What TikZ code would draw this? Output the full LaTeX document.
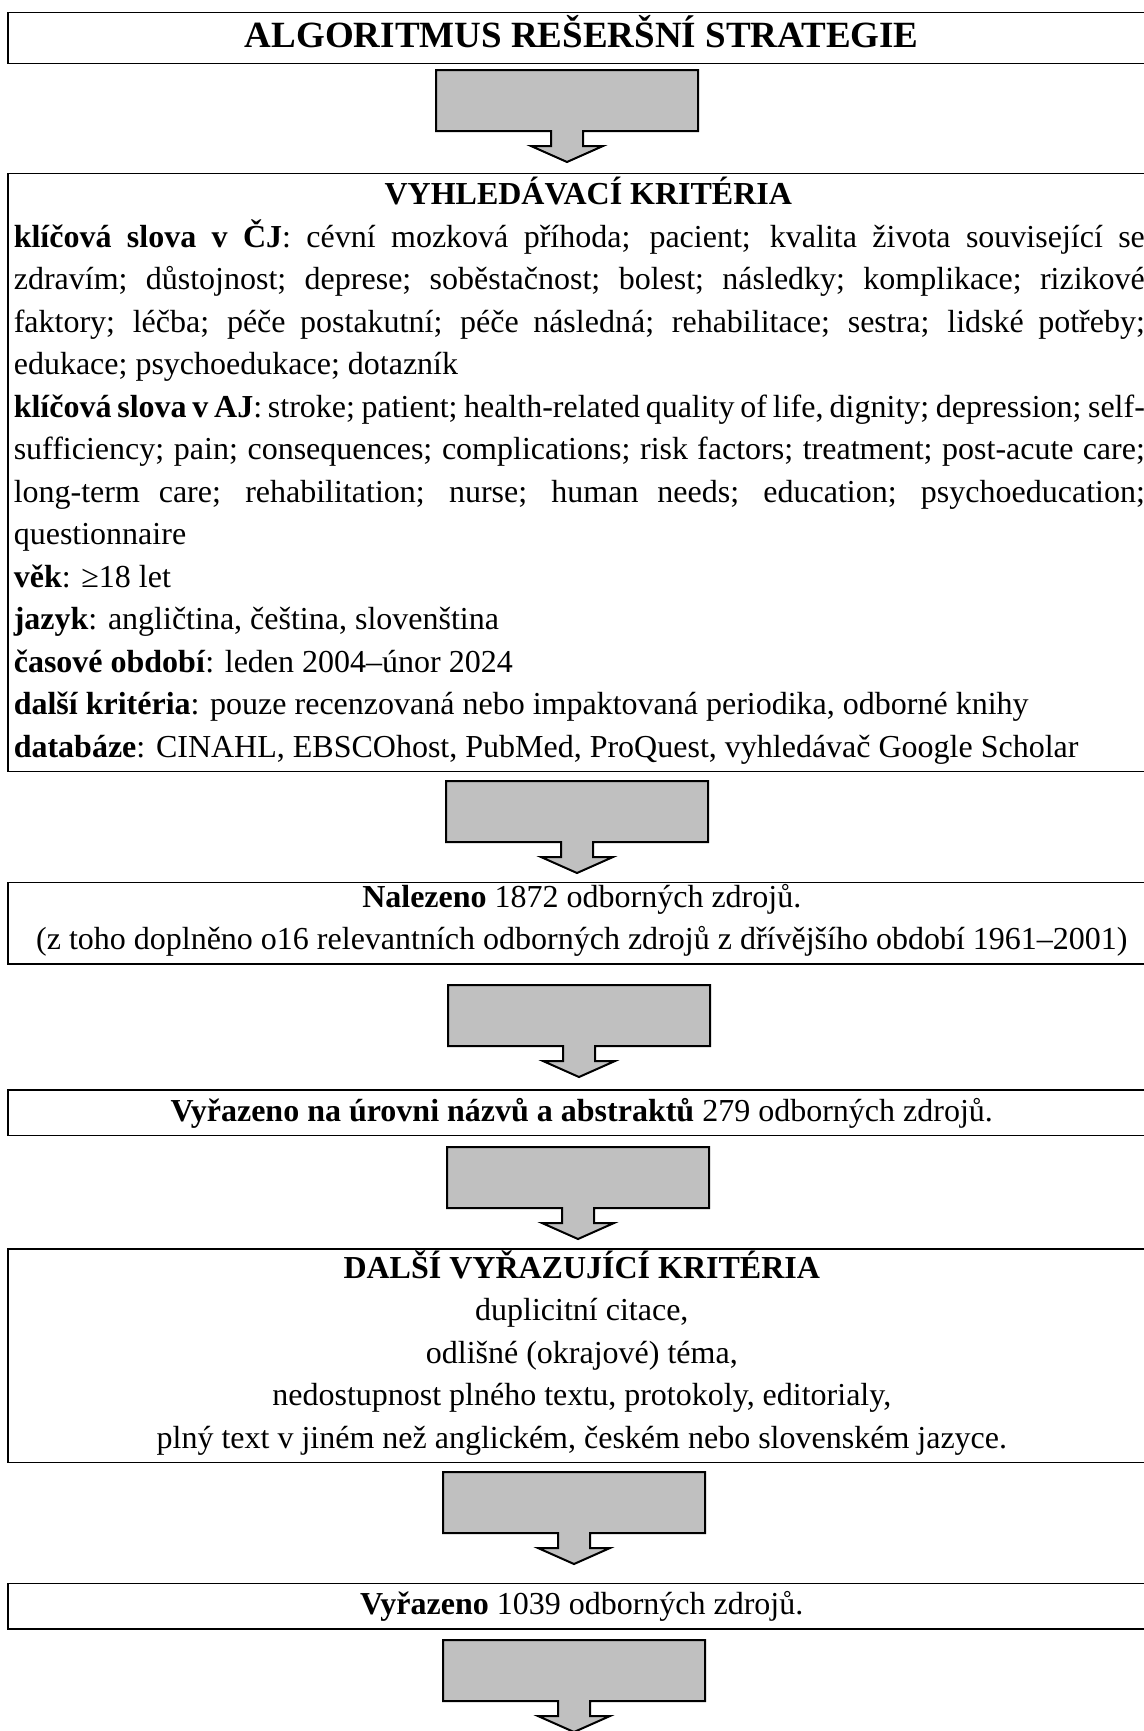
\documentclass[tikz,border=0pt]{standalone}
\usepackage{fontspec}
\setmainfont{Liberation Serif}
\usetikzlibrary{calc}
\setlength{\parindent}{0pt}
\definecolor{arrowgray}{RGB}{192,192,192}
\newcommand{\bodysize}{\fontsize{16pt}{21.25pt}\selectfont}
\tikzset{%
  stagebox/.style  = {draw, line width=0.8pt, anchor=north west,%
                      inner xsep=3pt, inner ysep=0.75pt, font=\bodysize,%
                      execute at begin node=\strut,%
                      execute at end node=\strut},%
  centerbox/.style = {stagebox, align=center, minimum width=574pt},%
  titlebox/.style  = {centerbox,%
                      font=\fontsize{18.5pt}{24pt}\selectfont\bfseries},%
  textbox/.style   = {stagebox, text width=565.5pt, align=justify,%
                      execute at begin node={\tolerance=10000\strut}},%
  downarrow/.style = {draw, line width=1pt, fill=arrowgray, line join=miter}%
}

\begin{document}
\begin{tikzpicture}
[x=0.5pt,y=-0.5pt]
	\useasboundingbox (0,0) rectangle (1144,1731);
	\fill [white] (0,0) rectangle (1144,1731);
	\node (title) at (7,11.7) [titlebox] {ALGORITMUS REŠERŠNÍ STRATEGIE};
	\node (search) at (7,172.7) [textbox] {%
		\makebox[565.5pt]{\hspace*{9pt}\textbf{VYHLEDÁVACÍ KRITÉRIA}}\par
		\textbf{klíčová slova v ČJ}: cévní mozková příhoda; pacient; kvalita života související se\linebreak
		zdravím; důstojnost; deprese; soběstačnost; bolest; následky; komplikace; rizikové\linebreak
		faktory; léčba; péče postakutní; péče následná; rehabilitace; sestra; lidské potřeby;\linebreak
		edukace; psychoedukace; dotazník\par
		\textbf{klíčová slova v AJ}: stroke; patient; health-related quality of life, dignity; depression; self-\linebreak
		sufficiency; pain; consequences; complications; risk factors; treatment; post-acute care;\linebreak
		long-term care; rehabilitation; nurse; human needs; education; psychoeducation;\linebreak
		questionnaire\par
		\textbf{věk}: ≥18 let\par
		\textbf{jazyk}: angličtina, čeština, slovenština\par
		\textbf{časové období}: leden 2004–únor 2024\par
		\textbf{další kritéria}: pouze recenzovaná nebo impaktovaná periodika, odborné knihy\par
		\textbf{databáze}: CINAHL, EBSCOhost, PubMed, ProQuest, vyhledávač Google Scholar};
	\node (found) at (7,881.7) [centerbox] {\textbf{Nalezeno} 1872 odborných zdrojů.\\
		(z toho doplněno o16 relevantních odborných zdrojů z dřívějšího období 1961–2001)};
	\node (screened) at (7,1089.3) [centerbox] {\textbf{Vyřazeno na úrovni názvů a abstraktů} 279 odborných zdrojů.};
	\node (exclcrit) at (7,1248.3) [centerbox] {\textbf{DALŠÍ VYŘAZUJÍCÍ KRITÉRIA}\\
		duplicitní citace,\\
		odlišné (okrajové) téma,\\
		nedostupnost plného textu, protokoly, editorialy,\\
		plný text v jiném než anglickém, českém nebo slovenském jazyce.};
	\node (excluded) at (7,1582.7) [centerbox] {\textbf{Vyřazeno} 1039 odborných zdrojů.};
	% block arrows between the stages
	\foreach \cx/\ty [count=\n] in {567/70,577/781,579/985,578/1147,574/1472,574/1640}
		\draw [downarrow] (\cx,\ty) coordinate (arr\n) ++(-131,0) -- ++(262,0) -- ++(0,61)
			-- ++(-115,0) -- ++(0,15) -- ++(20,0) -- ++(-36,16) -- ++(-36,-16)
			-- ++(20,0) -- ++(0,-15) -- ++(-115,0) -- cycle;
\end{tikzpicture}
\end{document}
